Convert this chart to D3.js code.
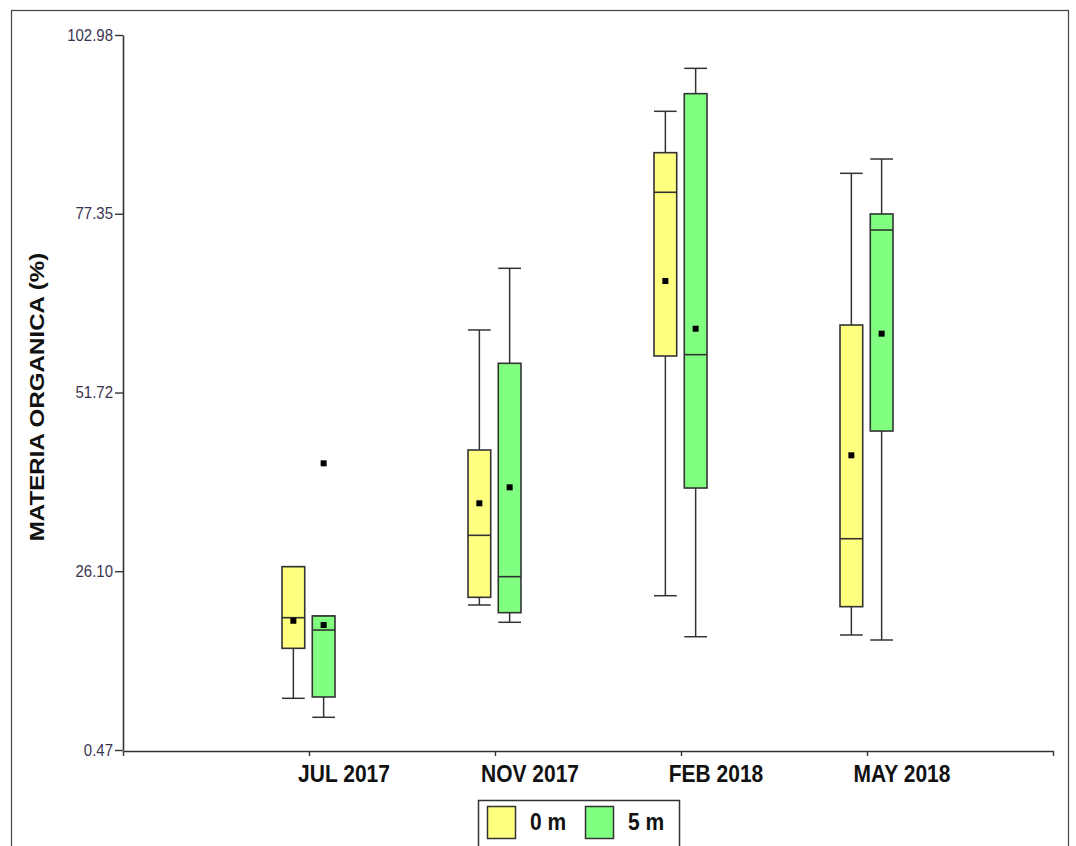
<!DOCTYPE html>
<html>
<head>
<meta charset="utf-8">
<script src="https://cdn.jsdelivr.net/npm/d3@7"></script>
<style>
  html, body { margin: 0; padding: 0; background: #fff; }
  svg { display: block; font-family: "Liberation Sans", Arial, sans-serif; }
</style>
</head>
<body>
<svg id="chart" width="1076" height="846"></svg>
<script>
// ---- Data ----
const categories = ["JUL 2017", "NOV 2017", "FEB 2018", "MAY 2018"];
const series = ["0 m", "5 m"];
const yTicks = [0.47, 26.10, 51.72, 77.35, 102.98];

// 0 m
const min0  = [7.88, 21.26, 22.59, 16.96];
const q1_0  = [15.05, 22.36, 56.96, 21.02];
const med0  = [19.44, 31.25, 80.43, 30.76];
const q3_0  = [26.75, 43.48, 86.11, 61.40];
const max0  = [26.75, 60.69, 92.04, 83.15];
const mean0 = [19.00, 35.84, 67.71, 42.72];
const out0  = [[], [], [], []];

// 5 m
const min5  = [5.16, 18.78, 16.71, 16.24];
const q1_5  = [8.07, 20.16, 38.03, 46.20];
const med5  = [17.67, 25.32, 57.15, 75.02];
const q3_5  = [19.68, 55.91, 94.57, 77.32];
const max5  = [19.68, 69.53, 98.20, 85.20];
const mean5 = [18.39, 38.13, 60.87, 60.16];
const out5  = [[41.57], [], [], []];

const colors = ["#FFFF80", "#80FF80"];

// ---- Build table ----
const stats = [
  {min: min0, q1: q1_0, med: med0, q3: q3_0, max: max0, mean: mean0, out: out0},
  {min: min5, q1: q1_5, med: med5, q3: q3_5, max: max5, mean: mean5, out: out5}
];
const boxes = [];
categories.forEach((c, i) => {
  series.forEach((s, j) => {
    const st = stats[j];
    boxes.push({cat: c, idx: i, ser: s, sj: j,
      min: st.min[i], q1: st.q1[i], med: st.med[i], q3: st.q3[i], max: st.max[i],
      mean: st.mean[i], out: st.out[i]});
  });
});

const svg = d3.select("#chart");

// outer frame
svg.append("rect").attr("x", 11.5).attr("y", 10.5).attr("width", 1057).attr("height", 860)
  .attr("fill", "none").attr("stroke", "#444").attr("stroke-width", 1.2);

// scales
const x = d3.scaleLinear().domain([0, 5]).range([123, 1053]);
const y = d3.scaleLinear().domain([0.47, 102.98]).range([750, 35]);
const sub = d3.scaleBand().domain(series).range([-27, 26]).paddingInner(0.25).paddingOuter(0);
const bw = sub.bandwidth();

// Y axis
const gy = svg.append("g").attr("transform", `translate(${x(0)},0)`)
  .call(d3.axisLeft(y).tickValues(yTicks).tickFormat(d3.format(".2f")).tickSize(8).tickPadding(2).tickSizeOuter(0));
gy.select(".domain").attr("stroke", "#333").attr("stroke-width", 1.6);
gy.selectAll(".tick line").attr("stroke", "#333").attr("stroke-width", 1.4);
gy.selectAll(".tick text").attr("font-size", 15).attr("fill", "#3a3550")
  .attr("font-family", "'Liberation Sans', Arial, sans-serif")
  .attr("transform", "scale(1,1.15)").attr("dy", "0.30em");

// X axis
const gx = svg.append("g").attr("transform", `translate(0,${y(0.47) + 1})`)
  .call(d3.axisBottom(x).tickValues([0, 1, 2, 3, 4, 5]).tickFormat("").tickSize(5).tickSizeOuter(0));
gx.select(".domain").attr("stroke", "#333").attr("stroke-width", 1.6);
gx.selectAll(".tick line").attr("stroke", "#333").attr("stroke-width", 1.4);

// X labels
svg.append("g").selectAll("text").data(categories).join("text")
  .attr("transform", (d, i) => `translate(${x(i + 1) + 35},782) scale(1,1.15)`)
  .attr("text-anchor", "middle").attr("font-size", 21).attr("font-weight", "bold")
  .attr("fill", "#111").text(d => d);

// Y title
svg.append("text")
  .attr("transform", "translate(44,397) scale(1,1.15) rotate(-90)")
  .attr("text-anchor", "middle").attr("font-size", 21).attr("font-weight", "bold")
  .attr("fill", "#111").text("MATERIA ORGANICA (%)");

// Boxes
const g = svg.append("g");
const bx = d => x(d.idx + 1) + sub(d.ser);
const cx = d => bx(d) + bw / 2;

const bg = g.selectAll("g.box").data(boxes).join("g").attr("class", "box");
// whiskers
bg.append("line").attr("x1", cx).attr("x2", cx).attr("y1", d => y(d.max)).attr("y2", d => y(d.q3))
  .attr("stroke", "#333").attr("stroke-width", 1.5);
bg.append("line").attr("x1", cx).attr("x2", cx).attr("y1", d => y(d.q1)).attr("y2", d => y(d.min))
  .attr("stroke", "#333").attr("stroke-width", 1.5);
// caps
bg.append("line").attr("x1", d => bx(d)).attr("x2", d => bx(d) + bw)
  .attr("y1", d => y(d.max)).attr("y2", d => y(d.max)).attr("stroke", "#333").attr("stroke-width", 1.5);
bg.append("line").attr("x1", d => bx(d)).attr("x2", d => bx(d) + bw)
  .attr("y1", d => y(d.min)).attr("y2", d => y(d.min)).attr("stroke", "#333").attr("stroke-width", 1.5);
// box
bg.append("rect").attr("x", bx).attr("width", bw)
  .attr("y", d => y(d.q3)).attr("height", d => y(d.q1) - y(d.q3))
  .attr("fill", d => colors[d.sj]).attr("stroke", "#333").attr("stroke-width", 1.6);
// median
bg.append("line").attr("x1", d => bx(d)).attr("x2", d => bx(d) + bw)
  .attr("y1", d => y(d.med)).attr("y2", d => y(d.med)).attr("stroke", "#333").attr("stroke-width", 1.6);
// mean marker
bg.append("rect").attr("x", d => cx(d) - 3).attr("y", d => y(d.mean) - 3)
  .attr("width", 6).attr("height", 6).attr("fill", "#000");
// outliers
bg.selectAll("rect.out").data(d => d.out.map(v => ({v, d}))).join("rect").attr("class", "out")
  .attr("x", o => cx(o.d) - 3).attr("y", o => y(o.v) - 3).attr("width", 6).attr("height", 6).attr("fill", "#000");

// Legend
const lg = svg.append("g");
lg.append("rect").attr("x", 478.5).attr("y", 800.5).attr("width", 201).attr("height", 70)
  .attr("fill", "#fff").attr("stroke", "#333").attr("stroke-width", 1.5);
const legX = [487, 585];
const li = lg.selectAll("g.li").data(series).join("g").attr("class", "li")
  .attr("transform", (d, i) => `translate(${legX[i]},806)`);
li.append("rect").attr("x", 0.5).attr("y", 0.5).attr("width", 28).attr("height", 32)
  .attr("fill", (d, i) => colors[i]).attr("stroke", "#333").attr("stroke-width", 1.5);
li.append("text").attr("transform", "translate(43,24) scale(1,1.15)")
  .attr("font-size", 21).attr("font-weight", "bold").attr("fill", "#111").text(d => d);
</script>
</body>
</html>
